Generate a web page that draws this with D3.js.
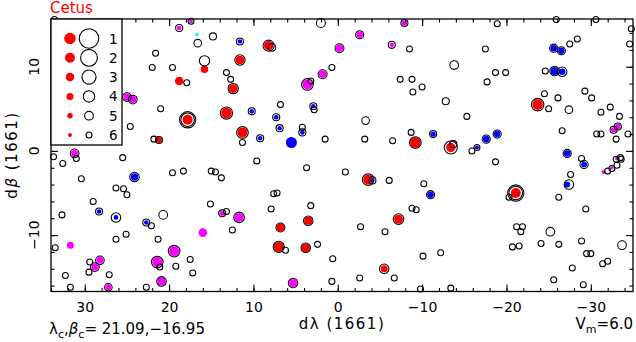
<!DOCTYPE html>
<html>
<head>
<meta charset="utf-8">
<script src="https://cdn.jsdelivr.net/npm/d3@7"></script>
<style>
  html, body { margin: 0; padding: 0; background: #fff; }
  svg { display: block; font-family: "DejaVu Sans", sans-serif; }
</style>
</head>
<body>
<svg id="chart" width="636" height="342"></svg>
<script>
// catalogue stars, open rings: [dλ, dβ, mag]
var stars = [
    [17.4, 15.4, 6], [18.8, 14.6, 5.6], [16.6, 12.8, 5.4], [14.8, 13.6, 5.6], [21.6, 11.6, 6],
    [22.0, 9.9, 6], [19.6, 9.9, 6], [15.8, 10.7, 4.4], [11.6, 13.0, 5.6], [8.2, 12.5, 4.1],
    [7.8, 12.3, 5.4], [11.6, 10.8, 4.4], [13.2, 9.3, 6], [12.7, 8.5, 6], [12.4, 7.4, 4.4],
    [17.9, 8.1, 6], [3.6, 7.9, 3.9], [3.2, 8.3, 6], [1.8, 9.1, 4.9], [0.7, 9.9, 6],
    [-0.2, 12.2, 4.9], [-2.6, 13.8, 5.2], [-6.4, 12.6, 5.6], [2.0, 15.2, 4.9], [-7.4, 8.5, 6],
    [21.0, 5.0, 6], [17.8, 3.7, 3.2], [17.8, 3.7, 2.2], [13.2, 4.5, 3.7], [10.2, 4.7, 5.6],
    [6.8, 5.5, 6], [7.3, 4.0, 5.6], [2.9, 5.3, 5.6], [2.8, 4.9, 6], [-3.3, 3.6, 5.4],
    [4.2, 2.8, 6], [6.9, 2.7, 5.6],
    [21.8, 1.4, 6], [21.2, 1.3, 5.6], [11.3, 2.2, 3.9], [11.3, 1.0, 6], [9.2, 1.5, 5.6],
    [4.2, 2.2, 5.6], [1.5, 1.4, 6], [-3.2, 1.4, 6], [-6.5, 1.2, 6], [9.6, -1.2, 6],
    [19.6, -2.6, 6], [18.3, -2.4, 6], [15.0, -2.4, 6], [14.5, -2.5, 6], [13.8, -3.2, 6],
    [3.7, -2.0, 6], [-0.9, -2.5, 6], [-3.6, -3.4, 3.9], [-4.1, -3.5, 5.6], [-6.1, -3.5, 6],
    [7.6, -5.1, 6], [7.2, -5.0, 6], [15.1, -6.3, 6], [20.7, -7.6, 5.0], [13.7, -7.4, 5.6],
    [13.2, -7.2, 6], [11.7, -7.9, 4.3], [7.9, -6.9, 6], [3.2, -6.5, 6], [3.5, -8.3, 4.7],
    [6.8, -9.1, 4.9], [-2.7, -9.0, 6], [-5.6, -9.6, 6], [22.1, -8.9, 6], [12.5, -9.4, 6],
    [21.3, -10.5, 6], [19.4, -11.9, 3.9], [7.0, -11.4, 4.1], [6.2, -11.8, 6], [3.8, -11.5, 4.7],
    [2.4, -11.1, 6], [0.6, -12.8, 6], [21.4, -13.2, 3.9], [17.5, -12.9, 6],
    [21.1, -13.8, 6], [19.2, -13.7, 6], [17.2, -14.5, 6], [20.9, -15.5, 4.7], [5.3, -15.7, 4.7],
    [0.7, -15.5, 6], [-2.6, -15.1, 6], [-5.5, -14.0, 4.7], [-6.7, -15.1, 6],
    [-10.1, -12.5, 6], [-12.2, -12.1, 6], [-9.8, -16.4, 6], [-13.4, -16.3, 6], [-25.6, -15.3, 6],
    [-27.8, -13.9, 6], [-29.1, -15.9, 6], [-29.5, -12.2, 6], [-30.0, -12.2, 6], [-31.4, -13.4, 6],
    [-32.0, -13.1, 6], [-20.7, -11.4, 6], [-21.5, -11.3, 6],
    [-8.7, 2.2, 6], [-9.2, 1.0, 3.9], [-11.3, 2.0, 5.6], [-13.4, 0.4, 3.4], [-13.7, 0.8, 5.6],
    [-15.9, 0.0, 6], [-16.5, 0.4, 6], [-17.6, 1.4, 5.2], [-18.9, 2.0, 5.2], [-18.7, -1.3, 6],
    [-26.6, 2.4, 6], [-30.7, 2.0, 6], [-31.2, 2.0, 6], [-32.7, 2.5, 5.6], [-33.2, 2.9, 5.6],
    [-33.0, 1.4, 6], [-34.4, 2.0, 6], [-27.2, -0.3, 5.2], [-28.9, -0.9, 6], [-29.2, -1.6, 5.2],
    [-33.5, -0.8, 6], [-33.6, -1.0, 6], [-33.0, -1.0, 6], [-33.1, -1.7, 6], [-32.5, -2.1, 6],
    [-32.0, -2.4, 6], [-27.6, -2.8, 6], [-27.4, -4.0, 4.7], [-10.2, -3.9, 6], [-11.0, -5.2, 5.2],
    [-21.1, -5.0, 3.2], [-21.1, -5.0, 2.2], [-20.3, -5.5, 6], [-26.2, -5.5, 6], [-8.8, -6.8, 6],
    [-9.3, -7.0, 6], [-7.2, -8.1, 4.3], [-29.4, -6.9, 6], [-21.2, -9.0, 6], [-21.9, -9.0, 6],
    [-21.7, -9.6, 6], [-25.2, -9.6, 5.0], [-28.9, -10.7, 6], [-24.1, -11.0, 6], [-26.2, -11.1, 6],
    [-33.7, -11.2, 5.0],
    [-7.9, 15.2, 5.6], [-18.9, 15.1, 6], [-25.9, 15.6, 6], [-30.6, 15.6, 6], [-34.8, 14.5, 6],
    [-34.6, 12.7, 6], [-8.5, 12.1, 6], [-17.5, 12.1, 6], [-25.6, 12.2, 5.2], [-26.5, 11.9, 5.2],
    [-27.5, 12.7, 6], [-28.4, 13.3, 6], [-13.8, 10.2, 5.0], [-18.7, 9.3, 6], [-19.9, 9.3, 6],
    [-24.6, 9.5, 6], [-25.7, 9.5, 4.7], [-26.6, 9.4, 4.7], [-8.8, 8.5, 6], [-8.9, 7.0, 6],
    [-10.0, 7.6, 6], [-17.7, 8.2, 6], [-12.8, 5.9, 5.6], [-24.5, 6.8, 6], [-26.1, 6.3, 6],
    [-23.7, 5.5, 3.6], [-25.0, 5.0, 6], [-27.4, 4.9, 5.4], [-29.3, 7.1, 6], [-30.1, 6.3, 6],
    [-32.3, 5.2, 6], [-31.2, 4.6, 6], [-33.4, 4.1, 6], [-15.3, 4.1, 6],
    [25.0, 6.4, 5.0], [24.3, 6.1, 5.0], [24.6, 2.9, 6], [25.5, -0.8, 6], [31.2, -0.3, 5.0],
    [33.7, -0.7, 6], [33.6, 15.6, 6],
    [31.0, -0.9, 6], [32.6, -1.5, 6], [30.4, -3.3, 6], [24.1, -3.1, 4.7], [26.3, -4.4, 6],
    [25.4, -4.5, 6], [25.0, -5.2, 6], [29.0, -6.0, 6], [28.3, -7.2, 5.6], [32.7, -7.6, 6],
    [26.3, -7.9, 4.7], [22.7, -8.5, 5.6], [25.1, -9.9, 6], [26.3, -10.5, 6], [33.5, -11.5, 6],
    [28.2, -13.0, 5.0], [29.4, -13.2, 6], [28.8, -13.8, 5.0], [29.5, -14.4, 6], [32.3, -14.8, 6],
    [27.1, -14.7, 6], [31.7, -16.2, 6], [27.2, -16.2, 5.4], [22.7, -16.2, 6]
];

// matched objects, filled dots: [dλ, dβ, mag]
var redDots = [
    [15.8, 9.7, 3.7], [8.2, 12.5, 2.4], [11.6, 10.8, 2.9], [12.4, 7.4, 2.9], [18.8, 8.3, 2.9],
    [17.8, 3.7, 2.0], [13.2, 4.5, 1.6], [21.2, 1.3, 4.7], [11.3, 2.2, 2.0], [-3.6, -3.4, 2.0],
    [3.5, -8.3, 3.3], [6.8, -9.1, 3.3], [7.0, -11.4, 2.0], [3.8, -11.5, 2.9], [-5.5, -14.0, 4.0],
    [-9.2, 1.0, 1.6], [-13.4, 0.4, 2.4], [-21.1, -5.0, 2.0], [-7.2, -8.1, 2.7], [-23.7, 5.5, 1.6]
];

var magentaDots = [
    [17.4, 15.4, 6], [18.8, 14.6, 5.6], [3.6, 7.9, 2.0], [1.8, 9.1, 3.7], [-0.2, 12.2, 3.7],
    [-2.6, 13.8, 4.3], [-6.4, 12.6, 5.6], [13.7, -7.4, 5.1], [11.7, -7.9, 2.7], [16.0, -9.7, 2.9],
    [19.4, -11.9, 2.0], [21.4, -13.2, 2.0], [20.9, -15.5, 3.3], [5.3, -15.7, 3.3],
    [-32.7, 2.5, 5.1], [-33.2, 2.9, 5.1], [-32.5, -2.0, 6.3], [-31.5, -2.5, 6], [-33.1, -0.9, 6],
    [-7.9, 15.2, 5.1], [25.0, 6.4, 4.0], [24.3, 6.1, 4.0], [31.2, -0.3, 4.0], [31.7, -11.2, 4.0],
    [28.2, -13.0, 4.0], [28.8, -13.8, 4.0], [27.2, -16.2, 4.7]
];

var blueDots = [
    [11.6, 13.0, 5.6], [10.2, 4.7, 5.6], [7.3, 4.0, 5.6], [2.9, 5.3, 5.6], [6.9, 2.7, 5.6],
    [9.2, 1.5, 5.6], [4.2, 2.2, 5.6], [5.5, 1.0, 1.3], [-4.1, -3.5, 6], [-11.3, 2.0, 5.1],
    [-16.5, 0.4, 6], [-17.6, 1.4, 4.3], [-18.9, 2.0, 4.3], [-27.2, -0.3, 4.3], [-29.2, -1.6, 4.7],
    [-27.2, -4.0, 4.7], [-11.0, -5.2, 4.3], [-25.6, 12.2, 4.3], [-26.5, 11.9, 4.3],
    [-25.7, 9.5, 3.3], [-26.6, 9.4, 4.3], [24.1, -3.1, 3.7], [28.3, -7.2, 5.6], [26.3, -7.9, 5.6],
    [22.7, -8.5, 5.6]
];

var cyanDots = [
    [16.7, 13.8, 6.3]
];

var xMajorTicks = [30, 20, 10, 0, -10, -20, -30];
var yMajorTicks = [-10, 0, 10];
var legendMags = [1, 2, 3, 4, 5, 6];

var svg = d3.select('#chart');

var x = d3.scaleLinear().domain([34.0, -35.0]).range([51, 633]);
var y = d3.scaleLinear().domain([-16.7, 15.67]).range([291.5, 19]);

// radius of the ring (stroke centre) and of the filled dot for a magnitude
function ringRadius(m) { return Math.max(11.1 - 1.35 * m, 1.5); }
function dotRadius(m) { return Math.max(6.5 - 0.75 * m, 1.2); }

var xMinor = d3.range(-34, 35, 2);
var yMinor = d3.range(-16, 16, 2);

function noDomain(g) { g.select('.domain').remove(); }

// ---- points: filled dots first, rings on top
var dots = svg.append('g');
function drawDots(data, color) {
    dots.selectAll(null)
        .data(data)
        .enter()
        .append('circle')
        .attr('cx', function(d) { return x(d[0]); })
        .attr('cy', function(d) { return y(d[1]); })
        .attr('r', function(d) { return dotRadius(d[2]); })
        .attr('fill', color);
}
drawDots(redDots, '#ff0000');
drawDots(magentaDots, '#ff00ff');
drawDots(blueDots, '#0000ff');
drawDots(cyanDots, '#00ffff');

svg.append('g')
    .selectAll('circle')
    .data(stars)
    .enter()
    .append('circle')
    .attr('cx', function(d) { return x(d[0]); })
    .attr('cy', function(d) { return y(d[1]); })
    .attr('r', function(d) { return ringRadius(d[2]); })
    .attr('fill', 'none')
    .attr('stroke', '#000')
    .attr('stroke-width', 1.05);

// ---- ticks, all pointing inwards
var axes = svg.append('g').attr('stroke-width', 1.1);

axes.append('g')
    .attr('transform', 'translate(0,291.5)')
    .call(d3.axisBottom(x).tickValues(xMinor).tickSize(-3.5).tickFormat(''))
    .call(noDomain);
axes.append('g')
    .attr('transform', 'translate(0,291.5)')
    .call(d3.axisBottom(x).tickValues(xMajorTicks).tickSize(-7).tickPadding(10.5))
    .call(noDomain)
    .call(function(g) {
        g.selectAll('text')
            .attr('font-size', 14)
            .attr('font-family', '"DejaVu Sans", sans-serif')
            .attr('fill', '#000');
    });
axes.append('g')
    .attr('transform', 'translate(0,19)')
    .call(d3.axisTop(x).tickValues(xMinor).tickSize(-3.5).tickFormat(''))
    .call(noDomain);
axes.append('g')
    .attr('transform', 'translate(0,19)')
    .call(d3.axisTop(x).tickValues(xMajorTicks).tickSize(-7).tickFormat(''))
    .call(noDomain);
axes.append('g')
    .attr('transform', 'translate(51,0)')
    .call(d3.axisLeft(y).tickValues(yMinor).tickSize(-3.5).tickFormat(''))
    .call(noDomain);
axes.append('g')
    .attr('transform', 'translate(51,0)')
    .call(d3.axisLeft(y).tickValues(yMajorTicks).tickSize(-7).tickFormat(''))
    .call(noDomain);
axes.append('g')
    .attr('transform', 'translate(633,0)')
    .call(d3.axisRight(y).tickValues(yMinor).tickSize(-3.5).tickFormat(''))
    .call(noDomain);
axes.append('g')
    .attr('transform', 'translate(633,0)')
    .call(d3.axisRight(y).tickValues(yMajorTicks).tickSize(-7).tickFormat(''))
    .call(noDomain);

// rotated y tick labels
svg.append('g')
    .selectAll('text')
    .data(yMajorTicks)
    .enter()
    .append('text')
    .attr('transform', function(d) { return 'translate(38.5,' + y(d) + ') rotate(-90)'; })
    .attr('text-anchor', 'middle')
    .attr('font-size', 14)
    .text(function(d) { return d3.format('')(d); });

svg.append('rect')
    .attr('x', 51)
    .attr('y', 19)
    .attr('width', 582)
    .attr('height', 272.5)
    .attr('fill', 'none')
    .attr('stroke', '#000')
    .attr('stroke-width', 1.3);

// ---- legend
var legend = svg.append('g');
legend.append('rect')
    .attr('x', 51)
    .attr('y', 19)
    .attr('width', 71)
    .attr('height', 126)
    .attr('fill', '#fff')
    .attr('stroke', '#000')
    .attr('stroke-width', 1.3);

var rows = legend.selectAll('g.row')
    .data(legendMags)
    .enter()
    .append('g')
    .attr('transform', function(d, i) { return 'translate(0,' + (38.5 + i * 19.3) + ')'; });
rows.append('circle')
    .attr('cx', 70)
    .attr('r', function(d) { return dotRadius(d); })
    .attr('fill', '#ff0000');
rows.append('circle')
    .attr('cx', 89)
    .attr('r', function(d) { return ringRadius(d); })
    .attr('fill', 'none')
    .attr('stroke', '#000')
    .attr('stroke-width', 1.1);
rows.append('text')
    .attr('x', 109)
    .attr('y', 5)
    .attr('font-size', 13.5)
    .text(function(d) { return d; });

// ---- titles
svg.append('text')
    .attr('x', 50)
    .attr('y', 12.5)
    .attr('font-size', 15)
    .attr('fill', '#ff0000')
    .text('Cetus');

svg.append('text')
    .attr('x', 342)
    .attr('y', 328.5)
    .attr('text-anchor', 'middle')
    .attr('font-size', 15)
    .attr('letter-spacing', 1.5)
    .text('dλ  (1661)');

svg.append('text')
    .attr('transform', 'translate(17,155) rotate(-90)')
    .attr('text-anchor', 'middle')
    .attr('font-size', 15)
    .attr('letter-spacing', 1.5)
    .call(function(t) {
        t.append('tspan').text('d');
        t.append('tspan').attr('font-style', 'italic').text('β');
        t.append('tspan').text('  (1661)');
    });

var centre = svg.append('text')
    .attr('x', 49)
    .attr('y', 334)
    .attr('font-size', 15);
centre.append('tspan').text('λ');
centre.append('tspan').attr('font-size', 11).attr('dy', 4).text('c');
centre.append('tspan').attr('dy', -4).text(',');
centre.append('tspan').attr('font-style', 'italic').text('β');
centre.append('tspan').attr('font-size', 11).attr('dy', 4).text('c');
centre.append('tspan').attr('dy', -4).text('=  21.09,−16.95');

var vm = svg.append('text')
    .attr('x', 633)
    .attr('y', 328.5)
    .attr('text-anchor', 'end')
    .attr('font-size', 15);
vm.append('tspan').text('V');
vm.append('tspan').attr('font-size', 11).attr('dy', 4).text('m');
vm.append('tspan').attr('dy', -4).text('=6.0');
</script>
</body>
</html>
